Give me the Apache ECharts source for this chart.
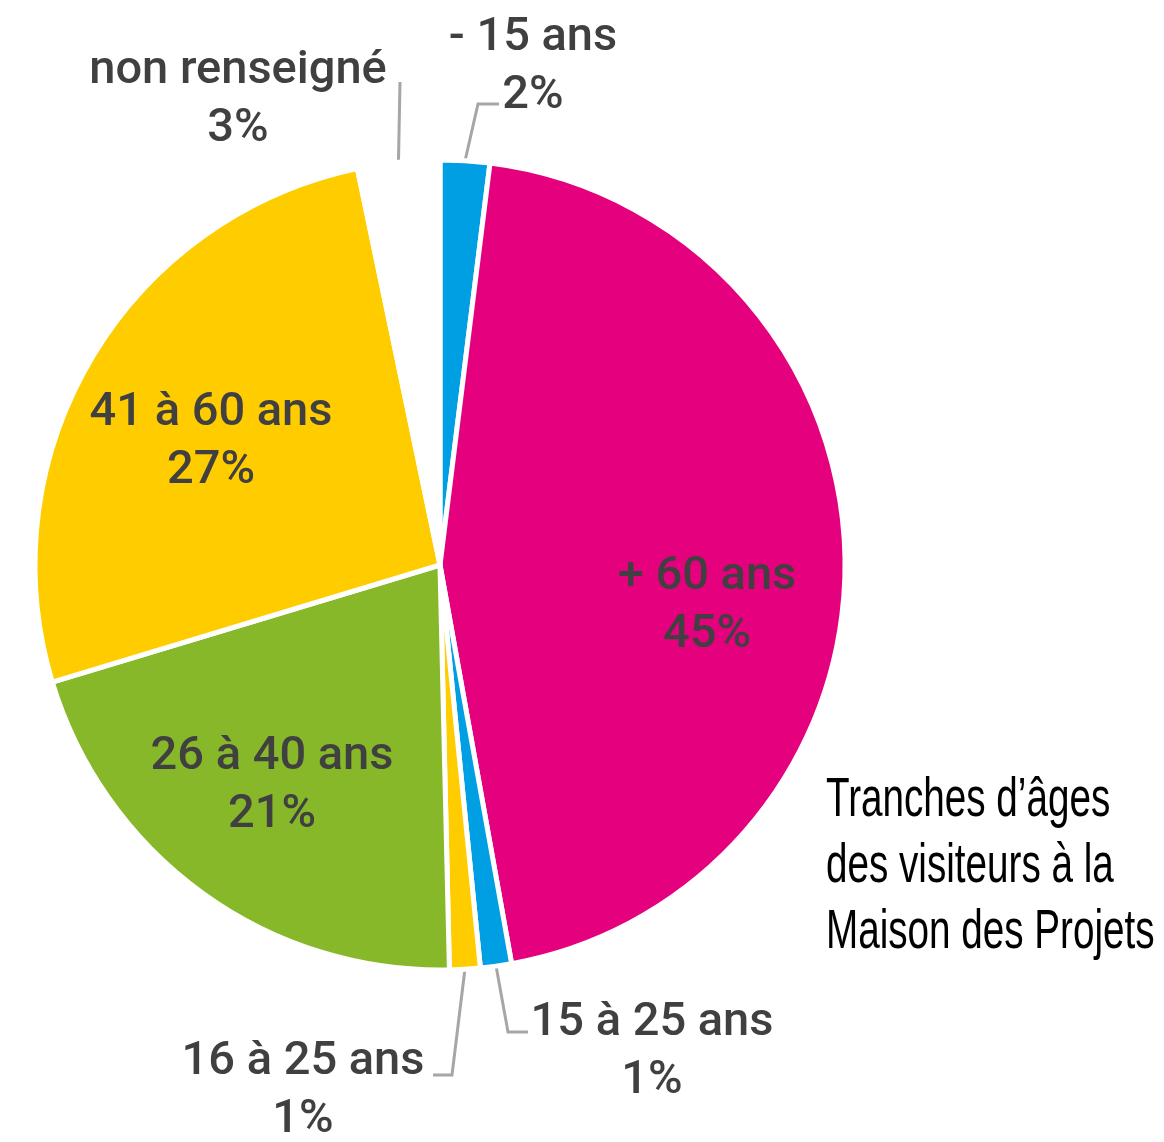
<!DOCTYPE html>
<html>
<head>
<meta charset="utf-8">
<title>Tranches d'âges des visiteurs</title>
<script src="https://cdn.jsdelivr.net/npm/echarts@6/dist/echarts.min.js"></script>
<style>
    html, body { margin: 0; padding: 0; background: #fff; }
    #chart { width: 1164px; height: 1142px; }
</style>
</head>
<body>
<div id="chart"></div>
<script>
// Data (clockwise from 12 o'clock)
const categories = ['- 15 ans', '+ 60 ans', '15 à 25 ans', '16 à 25 ans', '26 à 40 ans', '41 à 60 ans', 'non renseigné'];
const shares = [1.97, 45.2, 1.24, 1.22, 20.7, 26.4, 3.27];
const percentLabels = ['2%', '45%', '1%', '1%', '21%', '27%', '3%'];
const sliceColors = ['#009fe3', '#e5007e', '#009fe3', '#ffcc00', '#87b82a', '#ffcc00', '#ffffff'];
const titleLines = ["Tranches d\u2019âges", 'des visiteurs à la', 'Maison des Projets'];

// Label placement (block centre + optional leader line bend/end)
const labelSpots = [
    { x: 533, y: 67, line: [[478, 104], [499, 104]] },
    { x: 707, y: 606 },
    { x: 652, y: 1052, line: [[508, 1032], [528, 1032]] },
    { x: 303, y: 1091, line: [[452, 1075], [433, 1075]] },
    { x: 272, y: 786 },
    { x: 211, y: 442 },
    { x: 238, y: 100, line: [[400, 82], [400, 82]] }
];

const chart = echarts.init(document.getElementById('chart'));

const pieData = categories.map((name, i) => ({
    name: name,
    value: shares[i],
    itemStyle: { color: sliceColors[i] },
    labelLine: { show: !!labelSpots[i].line }
}));

const option = {
    backgroundColor: '#ffffff',
    animation: false,
    graphic: [
        {
            type: 'text',
            x: 826,
            y: 768,
            scaleX: 0.69,
            style: {
                text: titleLines.join('\n'),
                font: 'normal 56px "Liberation Sans", Arial, sans-serif',
                lineHeight: 66,
                fill: '#000000',
                align: 'left',
                verticalAlign: 'top'
            }
        }
    ],
    series: [
        {
            type: 'pie',
            center: [440, 565],
            radius: 405,
            startAngle: 90,
            clockwise: true,
            avoidLabelOverlap: false,
            data: pieData,
            itemStyle: { borderColor: '#ffffff', borderWidth: 5 },
            label: {
                show: true,
                position: 'outside',
                formatter: p => p.name + '\n' + percentLabels[p.dataIndex],
                fontFamily: 'Roboto, "DejaVu Sans", sans-serif',
                fontWeight: 500,
                fontSize: 47,
                lineHeight: 58,
                color: '#404040',
                align: 'center'
            },
            labelLine: {
                length: 20,
                length2: 20,
                lineStyle: { color: '#a6a6a6', width: 3 }
            },
            labelLayout: params => {
                const spot = labelSpots[params.dataIndex];
                const out = { x: spot.x, y: spot.y, align: 'center', verticalAlign: 'middle' };
                if (spot.line && params.labelLinePoints) {
                    const start = params.labelLinePoints[0];
                    out.labelLinePoints = [start, spot.line[0], spot.line[1]];
                }
                return out;
            }
        }
    ]
};

chart.setOption(option);
window.addEventListener('resize', () => chart.resize());
</script>
</body>
</html>
